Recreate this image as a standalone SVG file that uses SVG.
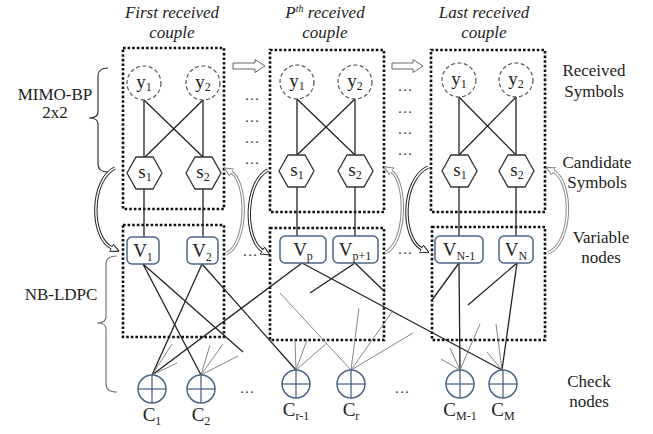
<svg xmlns="http://www.w3.org/2000/svg" width="653" height="434" viewBox="0 0 653 434">
  <style>
    text { font-family: "Liberation Serif", "Times New Roman", serif; fill: #222; }
    .title { font-size: 17px; font-style: italic; text-anchor: middle; }
    .lbl { font-size: 17px; text-anchor: middle; }
    .nl { font-size: 19px; text-anchor: middle; }
    .sub { font-size: 12px; }
    .dots { font-size: 15px; text-anchor: middle; fill: #333; }
    .box { fill: none; stroke: #111; stroke-width: 2.6; stroke-dasharray: 2.6 2; }
    .ycirc { fill: none; stroke: #555; stroke-width: 1.2; stroke-dasharray: 4 2.5; }
    .hex { fill: #fff; stroke: #333; stroke-width: 1.3; }
    .vnode { fill: #fff; stroke: #4d6587; stroke-width: 1.5; }
    .cnode { fill: #fff; stroke: #4d6587; stroke-width: 1.5; }
    .cx { stroke: #4d6587; stroke-width: 1.3; }
    .edge { stroke: #222; stroke-width: 1.3; fill: none; }
    .thin { stroke: #777; stroke-width: 0.9; fill: none; }
    .brace { fill: none; stroke-width: 1.2; }
    .hollow { fill: #fff; stroke: #666; stroke-width: 1; }
    .loopD { fill: none; stroke: #222; stroke-width: 3.4; }
    .loopL { fill: none; stroke: #888; stroke-width: 3.4; }
    .loopIn { fill: none; stroke: #fff; stroke-width: 1.4; }
  </style>
  <defs>
    <marker id="headD" viewBox="0 0 10 10" refX="1" refY="5" markerWidth="9" markerHeight="9" markerUnits="userSpaceOnUse" orient="auto">
      <path d="M0,0.5 L10,5 L0,9.5 z" fill="#fff" stroke="#222" stroke-width="1.2"/>
    </marker>
    <marker id="headL" viewBox="0 0 10 10" refX="1" refY="5" markerWidth="9" markerHeight="9" markerUnits="userSpaceOnUse" orient="auto">
      <path d="M0,0.5 L10,5 L0,9.5 z" fill="#fff" stroke="#888" stroke-width="1.2"/>
    </marker>
  </defs>
  <rect width="653" height="434" fill="#fff"/>

  <!-- column titles -->
  <text class="title" x="172" y="18">First received</text>
  <text class="title" x="172" y="38">couple</text>
  <text class="title" x="325" y="18">P<tspan font-size="10" dy="-6">th</tspan><tspan dy="6"> received</tspan></text>
  <text class="title" x="325" y="38">couple</text>
  <text class="title" x="484" y="18">Last received</text>
  <text class="title" x="484" y="38">couple</text>

  <!-- side labels -->
  <text class="lbl" x="55" y="100">MIMO-BP</text>
  <text class="lbl" x="55" y="118">2x2</text>
  <text class="lbl" x="61" y="300">NB-LDPC</text>
  <text class="lbl" x="594" y="76">Received</text>
  <text class="lbl" x="594" y="97">Symbols</text>
  <text class="lbl" x="597" y="168">Candidate</text>
  <text class="lbl" x="597" y="188">Symbols</text>
  <text class="lbl" x="601" y="243">Variable</text>
  <text class="lbl" x="601" y="263">nodes</text>
  <text class="lbl" x="589" y="387">Check</text>
  <text class="lbl" x="589" y="407">nodes</text>

  <!-- braces -->
  <path class="brace" stroke="#333" d="M108,68 Q98,68 98,76 L98,112 Q98,118 89,118 Q98,118 98,124 L98,164 Q98,172 108,172"/>
  <path class="brace" stroke="#777" d="M117,256 Q106,256 106,264 L106,317 Q106,323 97,323 Q106,323 106,329 L106,384 Q106,392 117,392"/>

  <!-- dotted group frames -->
  <g id="frames">
    <rect class="box" x="123" y="48" width="101" height="161"/>
    <rect class="box" x="270" y="50" width="114" height="162"/>
    <rect class="box" x="431" y="50" width="114" height="162"/>
    <rect class="box" x="123" y="225" width="101" height="112"/>
    <rect class="box" x="270" y="228" width="114" height="112"/>
    <rect class="box" x="432" y="227" width="113" height="113"/>
  </g>

  <!-- sequence arrows -->
  <polygon class="hollow" points="233,63 255,63 255,59.5 265,66 255,72.5 255,69 233,69"/>
  <polygon class="hollow" points="392,63 413,63 413,59.5 423,66 413,72.5 413,69 392,69"/>

  <!-- ellipses -->
  <g id="ellipses">
    <text class="dots" x="252" y="100">…</text>
    <text class="dots" x="252" y="122">…</text>
    <text class="dots" x="252" y="143">…</text>
    <text class="dots" x="252" y="164">…</text>
    <text class="dots" x="405" y="91">…</text>
    <text class="dots" x="405" y="113">…</text>
    <text class="dots" x="405" y="134">…</text>
    <text class="dots" x="405" y="155">…</text>
    <text class="dots" x="250" y="256">…</text>
    <text class="dots" x="405" y="254">…</text>
    <text class="dots" x="247" y="393">…</text>
    <text class="dots" x="402" y="393">…</text>
  </g>

  <!-- connectors -->
  <g id="connectors">
    <!-- received to candidate symbols -->
    <line class="edge" x1="144" y1="100" x2="144" y2="157"/>
    <line class="edge" x1="203" y1="100" x2="203" y2="157"/>
    <line class="edge" x1="144" y1="100" x2="203" y2="157"/>
    <line class="edge" x1="203" y1="100" x2="145" y2="157"/>
    <line class="edge" x1="297" y1="99" x2="297" y2="155"/>
    <line class="edge" x1="355" y1="99" x2="355" y2="155"/>
    <line class="edge" x1="297" y1="99" x2="355" y2="155"/>
    <line class="edge" x1="355" y1="99" x2="297" y2="155"/>
    <line class="edge" x1="459" y1="97" x2="459" y2="155"/>
    <line class="edge" x1="516" y1="97" x2="516" y2="155"/>
    <line class="edge" x1="459" y1="97" x2="516" y2="155"/>
    <line class="edge" x1="516" y1="97" x2="459" y2="155"/>
    <!-- candidate symbols to variable nodes -->
    <line class="edge" x1="144" y1="189" x2="144" y2="237"/>
    <line class="edge" x1="203" y1="189" x2="203" y2="237"/>
    <line class="edge" x1="297" y1="187" x2="297" y2="236"/>
    <line class="edge" x1="355" y1="187" x2="355" y2="236"/>
    <line class="edge" x1="459" y1="187" x2="459" y2="236"/>
    <line class="edge" x1="516" y1="187" x2="516" y2="236"/>
    <!-- variable to check edges -->
    <line class="edge" x1="143" y1="264" x2="201" y2="375"/>
    <line class="edge" x1="143" y1="264" x2="243" y2="352"/>
    <line class="edge" x1="202" y1="264" x2="152" y2="375"/>
    <line class="edge" x1="202" y1="264" x2="296" y2="370"/>
    <line class="edge" x1="302" y1="263" x2="152" y2="375"/>
    <line class="edge" x1="302" y1="263" x2="502" y2="370"/>
    <line class="edge" x1="355" y1="263" x2="310" y2="293"/>
    <line class="edge" x1="355" y1="263" x2="385" y2="292"/>
    <line class="edge" x1="459" y1="263" x2="460" y2="370"/>
    <line class="edge" x1="459" y1="263" x2="432" y2="300"/>
    <line class="edge" x1="517" y1="263" x2="502" y2="370"/>
    <line class="edge" x1="517" y1="263" x2="468" y2="305"/>
    <!-- partial edges at check nodes -->
    <line class="thin" x1="152" y1="375" x2="172" y2="344"/>
    <line class="thin" x1="152" y1="375" x2="177" y2="363"/>
    <line class="thin" x1="201" y1="375" x2="210" y2="345"/>
    <line class="thin" x1="201" y1="375" x2="223" y2="344"/>
    <line class="thin" x1="201" y1="375" x2="238" y2="356"/>
    <line class="thin" x1="296" y1="370" x2="295" y2="340"/>
    <line class="thin" x1="296" y1="370" x2="307" y2="340"/>
    <line class="thin" x1="296" y1="370" x2="327" y2="343"/>
    <line class="thin" x1="351" y1="370" x2="280" y2="293"/>
    <line class="thin" x1="351" y1="370" x2="359" y2="308"/>
    <line class="thin" x1="351" y1="370" x2="392" y2="312"/>
    <line class="thin" x1="351" y1="370" x2="413" y2="333"/>
    <line class="thin" x1="460" y1="370" x2="441" y2="359"/>
    <line class="thin" x1="460" y1="370" x2="450" y2="348"/>
    <line class="thin" x1="460" y1="370" x2="480" y2="324"/>
    <line class="thin" x1="502" y1="370" x2="487" y2="352"/>
    <line class="thin" x1="502" y1="370" x2="496" y2="324"/>
    <!-- feedback loops between detector and decoder -->
    <path class="loopD" marker-end="url(#headD)" d="M115,168 C90,180 90,238 112,248"/>
    <path class="loopIn" d="M115,168 C90,180 90,238 112,248"/>
    <path class="loopL" marker-end="url(#headL)" d="M226,254 C248,244 248,182 231,172"/>
    <path class="loopIn" d="M226,254 C248,244 248,182 231,172"/>
    <path class="loopD" marker-end="url(#headD)" d="M268,170 C244,182 244,240 263,251"/>
    <path class="loopIn" d="M268,170 C244,182 244,240 263,251"/>
    <path class="loopL" marker-end="url(#headL)" d="M385,253 C407,243 407,181 391,171"/>
    <path class="loopIn" d="M385,253 C407,243 407,181 391,171"/>
    <path class="loopD" marker-end="url(#headD)" d="M428,167 C401,180 401,238 422,249"/>
    <path class="loopIn" d="M428,167 C401,180 401,238 422,249"/>
    <path class="loopL" marker-end="url(#headL)" d="M548,253 C573,243 573,181 553,171"/>
    <path class="loopIn" d="M548,253 C573,243 573,181 553,171"/>
  </g>

  <!-- received symbols -->
  <g id="y1-a"><circle class="ycirc" cx="144" cy="83" r="17"/><text class="nl" x="144" y="88">y<tspan class="sub" dy="3">1</tspan></text></g>
  <g id="y2-a"><circle class="ycirc" cx="203" cy="83" r="17"/><text class="nl" x="203" y="88">y<tspan class="sub" dy="3">2</tspan></text></g>
  <g id="y1-p"><circle class="ycirc" cx="297" cy="82" r="17"/><text class="nl" x="297" y="87">y<tspan class="sub" dy="3">1</tspan></text></g>
  <g id="y2-p"><circle class="ycirc" cx="355" cy="82" r="17"/><text class="nl" x="355" y="87">y<tspan class="sub" dy="3">2</tspan></text></g>
  <g id="y1-l"><circle class="ycirc" cx="459" cy="80" r="17"/><text class="nl" x="459" y="85">y<tspan class="sub" dy="3">1</tspan></text></g>
  <g id="y2-l"><circle class="ycirc" cx="516" cy="80" r="17"/><text class="nl" x="516" y="85">y<tspan class="sub" dy="3">2</tspan></text></g>

  <!-- candidate symbols -->
  <g id="s1-a"><polygon class="hex" points="127,173 136,157 153,157 162,173 153,189 136,189"/><text class="nl" x="145" y="178">s<tspan class="sub" dy="3">1</tspan></text></g>
  <g id="s2-a"><polygon class="hex" points="186,173 195,157 212,157 221,173 212,189 195,189"/><text class="nl" x="203" y="178">s<tspan class="sub" dy="3">2</tspan></text></g>
  <g id="s1-p"><polygon class="hex" points="279,171 288,155 305,155 314,171 305,187 288,187"/><text class="nl" x="297" y="176">s<tspan class="sub" dy="3">1</tspan></text></g>
  <g id="s2-p"><polygon class="hex" points="338,171 347,155 364,155 373,171 364,187 347,187"/><text class="nl" x="355" y="176">s<tspan class="sub" dy="3">2</tspan></text></g>
  <g id="s1-l"><polygon class="hex" points="442,171 451,155 468,155 477,171 468,187 451,187"/><text class="nl" x="460" y="176">s<tspan class="sub" dy="3">1</tspan></text></g>
  <g id="s2-l"><polygon class="hex" points="499,171 508,155 525,155 534,171 525,187 508,187"/><text class="nl" x="517" y="176">s<tspan class="sub" dy="3">2</tspan></text></g>

  <!-- variable nodes -->
  <g id="V1"><rect class="vnode" x="127" y="237" width="32" height="27" rx="5"/><text class="nl" x="143" y="257">V<tspan class="sub" dy="4">1</tspan></text></g>
  <g id="V2"><rect class="vnode" x="187" y="237" width="31" height="27" rx="5"/><text class="nl" x="202" y="257">V<tspan class="sub" dy="4">2</tspan></text></g>
  <g id="Vp"><rect class="vnode" x="280" y="236" width="46" height="27" rx="5"/><text class="nl" x="303" y="256">V<tspan class="sub" dy="4">p</tspan></text></g>
  <g id="Vp1"><rect class="vnode" x="333" y="236" width="45" height="27" rx="5"/><text class="nl" x="355" y="256">V<tspan class="sub" dy="4">p+1</tspan></text></g>
  <g id="VN1"><rect class="vnode" x="435" y="236" width="48" height="27" rx="5"/><text class="nl" x="459" y="256">V<tspan class="sub" dy="4">N-1</tspan></text></g>
  <g id="VN"><rect class="vnode" x="499" y="236" width="34" height="27" rx="5"/><text class="nl" x="516" y="256">V<tspan class="sub" dy="4">N</tspan></text></g>

  <!-- check nodes -->
  <g id="C1"><circle class="cnode" cx="152" cy="389" r="14"/><line class="cx" x1="138" y1="389" x2="166" y2="389"/><line class="cx" x1="152" y1="375" x2="152" y2="403"/><text class="nl" x="152" y="421">C<tspan class="sub" dy="4">1</tspan></text></g>
  <g id="C2"><circle class="cnode" cx="201" cy="389" r="14"/><line class="cx" x1="187" y1="389" x2="215" y2="389"/><line class="cx" x1="201" y1="375" x2="201" y2="403"/><text class="nl" x="201" y="421">C<tspan class="sub" dy="4">2</tspan></text></g>
  <g id="Cr1"><circle class="cnode" cx="296" cy="384" r="14"/><line class="cx" x1="282" y1="384" x2="310" y2="384"/><line class="cx" x1="296" y1="370" x2="296" y2="398"/><text class="nl" x="296" y="416">C<tspan class="sub" dy="4">r-1</tspan></text></g>
  <g id="Cr"><circle class="cnode" cx="351" cy="384" r="14"/><line class="cx" x1="337" y1="384" x2="365" y2="384"/><line class="cx" x1="351" y1="370" x2="351" y2="398"/><text class="nl" x="351" y="416">C<tspan class="sub" dy="4">r</tspan></text></g>
  <g id="CM1"><circle class="cnode" cx="460" cy="384" r="14"/><line class="cx" x1="446" y1="384" x2="474" y2="384"/><line class="cx" x1="460" y1="370" x2="460" y2="398"/><text class="nl" x="460" y="416">C<tspan class="sub" dy="4">M-1</tspan></text></g>
  <g id="CM"><circle class="cnode" cx="503" cy="384" r="14"/><line class="cx" x1="489" y1="384" x2="517" y2="384"/><line class="cx" x1="503" y1="370" x2="503" y2="398"/><text class="nl" x="503" y="416">C<tspan class="sub" dy="4">M</tspan></text></g>
</svg>
